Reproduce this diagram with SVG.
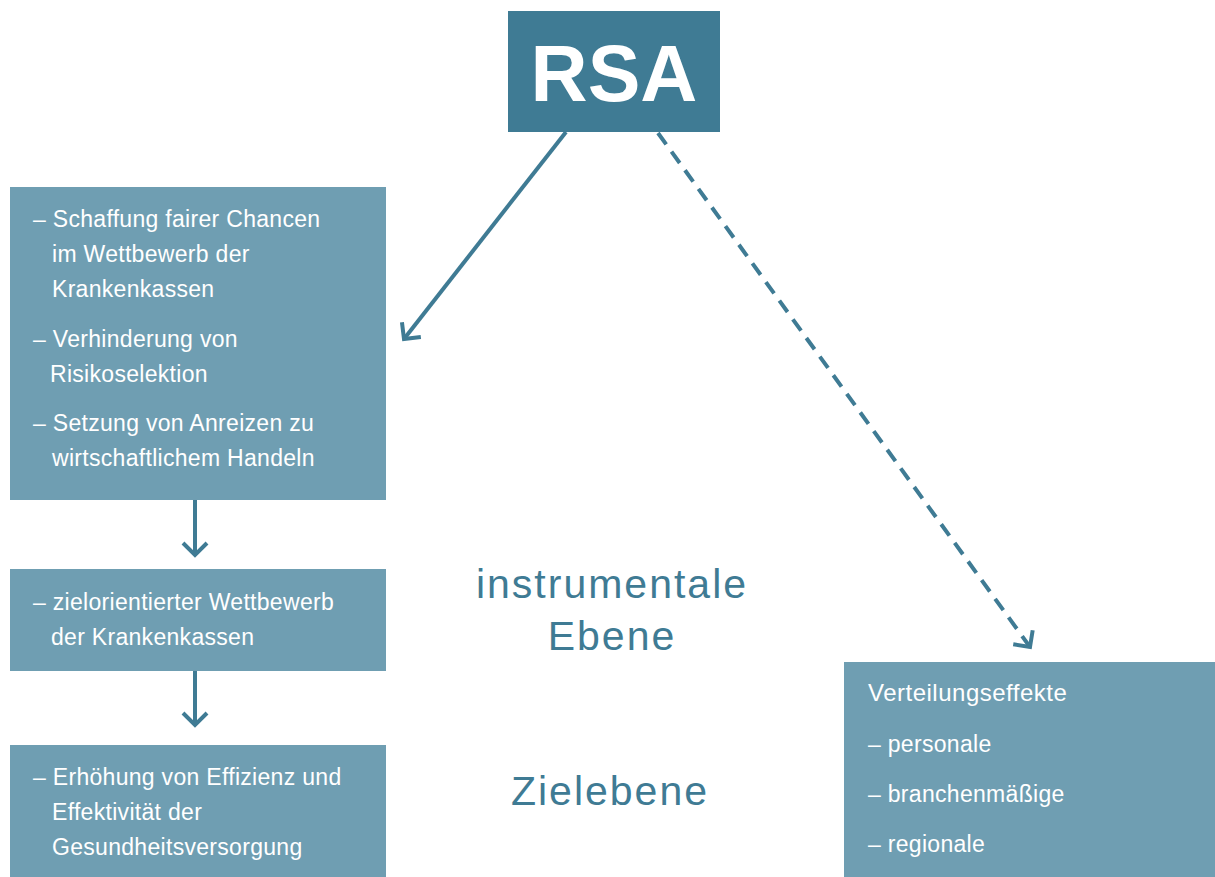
<svg xmlns="http://www.w3.org/2000/svg" width="1215" height="877" viewBox="0 0 1215 877">
<style>
.box{fill:#6f9eb2}
.t{font-family:"Liberation Sans",Arial,sans-serif;font-size:23px;letter-spacing:0.3px;fill:#ffffff}
.lbl{font-family:"Liberation Sans",Arial,sans-serif;font-size:41px;letter-spacing:2px;fill:#3f7b94;text-anchor:middle}
.ln{stroke:#3f7b94;stroke-width:4;fill:none}
</style>
<defs>
<marker id="ah2" viewBox="0 0 30 30" refX="24" refY="15" markerWidth="30" markerHeight="30" markerUnits="userSpaceOnUse" orient="auto">
<path d="M12,3 L24,15 L12,27" fill="none" stroke="#3f7b94" stroke-width="4"/>
</marker>
</defs>
<g id="rsa">
<rect x="508" y="11" width="212" height="121" fill="#3f7b94"/>
<text x="614" y="101" font-family="Liberation Sans,Arial,sans-serif" font-size="79" font-weight="bold" fill="#ffffff" text-anchor="middle">RSA</text>
</g>
<g id="box1">
<rect class="box" x="10" y="187" width="376" height="313"/>
<text class="t"><tspan x="33" y="227">– Schaffung fairer Chancen</tspan><tspan x="52" y="262">im Wettbewerb der</tspan><tspan x="52" y="297">Krankenkassen</tspan><tspan x="33" y="347">– Verhinderung von</tspan><tspan x="50" y="382">Risikoselektion</tspan><tspan x="33" y="431">– Setzung von Anreizen zu</tspan><tspan x="52" y="466">wirtschaftlichem Handeln</tspan></text>
</g>
<g id="box2">
<rect class="box" x="10" y="569" width="376" height="102"/>
<text class="t"><tspan x="33" y="610">– zielorientierter Wettbewerb</tspan><tspan x="51" y="645">der Krankenkassen</tspan></text>
</g>
<g id="box3">
<rect class="box" x="10" y="745" width="376" height="132"/>
<text class="t"><tspan x="33" y="785">– Erhöhung von Effizienz und</tspan><tspan x="52" y="820">Effektivität der</tspan><tspan x="52" y="855">Gesundheitsversorgung</tspan></text>
</g>
<g id="box4">
<rect class="box" x="844" y="662" width="371" height="215"/>
<text class="t"><tspan x="868" y="701" style="font-size:24px;letter-spacing:0.5px">Verteilungseffekte</tspan><tspan x="868" y="752">– personale</tspan><tspan x="868" y="802">– branchenmäßige</tspan><tspan x="868" y="852">– regionale</tspan></text>
</g>
<g id="labels">
<text class="lbl" x="612" y="598">instrumentale</text>
<text class="lbl" x="612" y="650">Ebene</text>
<text class="lbl" x="610" y="805">Zielebene</text>
</g>
<g id="connectors">
<line class="ln" x1="566" y1="132" x2="404" y2="339" marker-end="url(#ah2)"/>
<line class="ln" x1="658" y1="133" x2="1030" y2="647" stroke-dasharray="14 9" marker-end="url(#ah2)"/>
<line class="ln" x1="195" y1="500" x2="195" y2="555" marker-end="url(#ah2)"/>
<line class="ln" x1="195" y1="671" x2="195" y2="725" marker-end="url(#ah2)"/>
</g>
</svg>
